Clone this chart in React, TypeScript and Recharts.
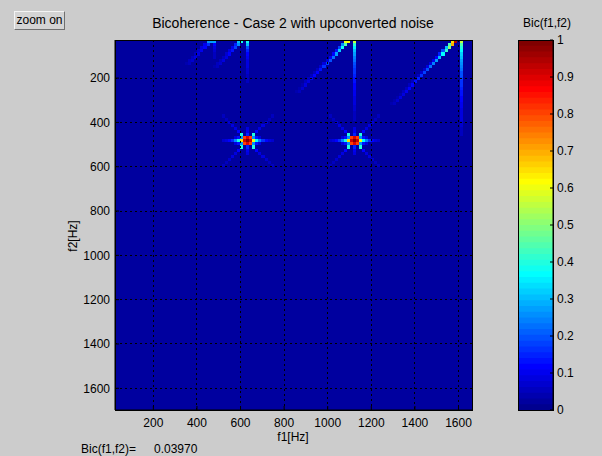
import React from "react"
import {
  ScatterChart,
  Scatter,
  XAxis,
  YAxis,
  ReferenceArea,
} from "recharts"

const FONT = "'Liberation Sans', Arial, Helvetica, sans-serif"
const FIGURE_BG = "#cccccc"

// bicoherence map axes, Hz
const f1Range = [24, 1662]
const f2Range = [28, 1698]
const freqTicks = [200, 400, 600, 800, 1000, 1200, 1400, 1600]
const binHz = 14
const floorLevel = 0.025

// the two bicoherence peaks
const peakF1 = [633, 1122]
const peakF2 = [484, 484]
// 3x3 core of a peak, top row first
const peakCore = [
  [0.8, 0.9, 0.8],
  [0.92, 1.0, 0.92],
  [0.8, 0.9, 0.8],
]
// arms of a peak, starting two bins from the centre
const peakArmLeft = [0.65, 0.4, 0.26, 0.17, 0.12, 0.09, 0.07]
const peakArmRight = [0.6, 0.36, 0.24, 0.16, 0.11, 0.08, 0.07]
const peakArmSide = [0.25, 0.14, 0.09]
const peakArmVert = [0.15, 0.1, 0.08]
const peakArmDiag = [0.4, 0.12, 0.09, 0.08, 0.07, 0.06, 0.06]

// upconverted noise ridges hanging from the top edge
const ridgeColumn = [478, 628, 1122, 1607] // vertical line at f1
const ridgeSum = [505, 640, 1132, 1625] // diagonal line f1 + f2 = const
const ridgeColumnLevels = [
  [0.28, 0.12, 0.09, 0.07, 0.06, 0.05],
  [0.38, 0.3, 0.2, 0.15, 0.12, 0.1, 0.09, 0.08, 0.08, 0.07, 0.07, 0.06, 0.06, 0.05],
  [0.55, 0.42, 0.35, 0.3, 0.27, 0.24, 0.22, 0.2, 0.18, 0.17, 0.16, 0.15, 0.14, 0.13, 0.12, 0.11, 0.1, 0.1, 0.09, 0.08, 0.08, 0.07, 0.07, 0.06, 0.06, 0.05],
  [0.55, 0.45, 0.4, 0.36, 0.32, 0.3, 0.28, 0.26, 0.24, 0.22, 0.2, 0.19, 0.18, 0.17, 0.16, 0.15, 0.14, 0.13, 0.12, 0.11, 0.1, 0.1, 0.09, 0.09, 0.08, 0.08, 0.07, 0.07, 0.06, 0.06, 0.05],
]
// [on the line, one bin to the left]
const ridgeDiagLevels = [
  [[0.28, 0.25], [0.16, 0.1], [0.12, 0.08], [0.1, 0.07], [0.09, 0.06], [0.08, 0.05], [0.07, 0.05], [0.06, 0.04]],
  [[0.38, 0.3], [0.25, 0.15], [0.18, 0.1], [0.14, 0.08], [0.11, 0.07], [0.09, 0.06], [0.08, 0.05], [0.07, 0.05], [0.06, 0.04]],
  [[0.62, 0.6], [0.45, 0.25], [0.38, 0.18], [0.32, 0.14], [0.27, 0.12], [0.23, 0.1], [0.2, 0.09], [0.18, 0.08], [0.16, 0.07], [0.14, 0.06], [0.12, 0.06], [0.11, 0.05], [0.1, 0.05], [0.09, 0.05], [0.08, 0.04], [0.07, 0.04], [0.06, 0.04]],
  [[0.95, 0.65], [0.7, 0.45], [0.5, 0.3], [0.42, 0.2], [0.36, 0.15], [0.3, 0.12], [0.27, 0.1], [0.24, 0.09], [0.22, 0.08], [0.2, 0.07], [0.18, 0.07], [0.16, 0.06], [0.15, 0.06], [0.13, 0.05], [0.12, 0.05], [0.11, 0.05], [0.1, 0.05], [0.09, 0.04], [0.08, 0.04], [0.07, 0.04], [0.06, 0.04]],
]

// colorbar
const barTicks = [0, 0.1, 0.2, 0.3, 0.4, 0.5, 0.6, 0.7, 0.8, 0.9, 1]
const barLevels = 64

// matlab jet(64), row 0..63
function jetRow(r: number) {
  const u = (k: number) => (k < 1 || k > 47 ? 0 : k <= 16 ? k / 16 : k <= 31 ? 1 : (48 - k) / 16)
  const x = r + 1
  const c = [u(x - 24), u(x - 8), u(x + 8)].map((v) => Math.round(v * 255))
  return `rgb(${c[0]},${c[1]},${c[2]})`
}
const jet = (v: number) => jetRow(Math.max(0, Math.min(63, Math.floor(v * 64))))

type Cell = { i: number; j: number; v: number }

function buildCells(): Cell[] {
  const cells = new Map<string, Cell>()
  const nCols = Math.floor((f1Range[1] - f1Range[0]) / binHz)
  const nRows = Math.floor((f2Range[1] - f2Range[0]) / binHz)
  const put = (i: number, j: number, v: number) => {
    if (i < 0 || j < 0 || i >= nCols || j >= nRows) return
    const key = i + "," + j
    const old = cells.get(key)
    if (!old || old.v < v) cells.set(key, { i, j, v })
  }
  const col = (f: number) => Math.floor((f - f1Range[0]) / binHz)
  const row = (f: number) => Math.floor((f - f2Range[0]) / binHz)

  ridgeColumn.forEach((f1, r) => {
    const i = col(f1)
    ridgeColumnLevels[r].forEach((v, k) => put(i, k, v))
  })
  ridgeSum.forEach((s, r) => {
    ridgeDiagLevels[r].forEach(([on, side], k) => {
      const f2 = f2Range[0] + (k + 0.5) * binHz
      const i = col(s - f2)
      put(i, k, on)
      put(i - 1, k, side)
    })
  })

  peakF1.forEach((f1, p) => {
    const ci = col(f1)
    const cj = row(peakF2[p])
    peakArmDiag.forEach((v, k) => {
      const d = k + 2
      put(ci - d, cj - d, v)
      put(ci + d, cj - d, v)
      put(ci - d, cj + d, v)
      put(ci + d, cj + d, v)
    })
    peakArmVert.forEach((v, k) => {
      put(ci, cj - k - 2, v)
      put(ci, cj + k + 2, v)
    })
    peakArmSide.forEach((v, k) => {
      put(ci - k - 2, cj - 1, v)
      put(ci + k + 2, cj - 1, v)
      put(ci - k - 2, cj + 1, v)
      put(ci + k + 2, cj + 1, v)
    })
    peakArmLeft.forEach((v, k) => put(ci - k - 2, cj, v))
    peakArmRight.forEach((v, k) => put(ci + k + 2, cj, v))
    peakCore.forEach((line, dj) => line.forEach((v, di) => put(ci + di - 1, cj + dj - 1, v)))
  })

  return Array.from(cells.values()).sort((a, b) => a.v - b.v)
}

const cells = buildCells()
const peaks = peakF1.map((f1, i) => ({ f1, f2: peakF2[i] }))

const tickStyle = { fill: "#000", fontSize: 12, fontFamily: FONT }

function MapChart() {
  return (
    <ScatterChart
      width={602}
      height={456}
      margin={{ top: 40, right: 130, bottom: 16, left: 55 }}
    >
      <XAxis
        type="number"
        dataKey="f1"
        domain={f1Range}
        ticks={freqTicks}
        interval={0}
        allowDataOverflow
        height={30}
        tickSize={-4}
        tickMargin={12}
        stroke="#000"
        tick={tickStyle}
      />
      <XAxis
        xAxisId="top"
        orientation="top"
        type="number"
        domain={f1Range}
        ticks={freqTicks}
        interval={0}
        allowDataOverflow
        height={0}
        tickSize={-4}
        tick={false}
        stroke="#000"
      />
      <YAxis
        type="number"
        dataKey="f2"
        domain={f2Range}
        ticks={freqTicks}
        interval={0}
        reversed
        allowDataOverflow
        width={60}
        tickSize={-4}
        tickMargin={9}
        stroke="#000"
        tick={tickStyle}
      />
      <YAxis
        yAxisId="right"
        orientation="right"
        type="number"
        domain={f2Range}
        ticks={freqTicks}
        interval={0}
        reversed
        allowDataOverflow
        width={0}
        tickSize={-4}
        tick={false}
        stroke="#000"
      />
      <ReferenceArea
        x1={f1Range[0]}
        x2={f1Range[1]}
        y1={f2Range[0]}
        y2={f2Range[1]}
        fill={jet(floorLevel)}
        fillOpacity={1}
        stroke="none"
      />
      {cells.map((c) => (
        <ReferenceArea
          key={c.i + "-" + c.j}
          x1={f1Range[0] + c.i * binHz}
          x2={f1Range[0] + (c.i + 1) * binHz}
          y1={f2Range[0] + c.j * binHz}
          y2={f2Range[0] + (c.j + 1) * binHz}
          fill={jet(c.v)}
          fillOpacity={1}
          stroke="none"
          shapeRendering="crispEdges"
        />
      ))}
      {/* dotted grid: the left / top edge of each outline is the grid line */}
      {freqTicks.map((t) => (
        <ReferenceArea
          key={"gx" + t}
          x1={t}
          x2={f1Range[1]}
          y1={f2Range[0]}
          y2={f2Range[1]}
          fill="none"
          stroke="#000"
          strokeWidth={1}
          strokeDasharray="2 3"
          shapeRendering="crispEdges"
        />
      ))}
      {freqTicks.map((t) => (
        <ReferenceArea
          key={"gy" + t}
          x1={f1Range[0]}
          x2={f1Range[1]}
          y1={t}
          y2={f2Range[1]}
          fill="none"
          stroke="#000"
          strokeWidth={1}
          strokeDasharray="2 3"
          shapeRendering="crispEdges"
        />
      ))}
      <ReferenceArea
        x1={f1Range[0]}
        x2={f1Range[1]}
        y1={f2Range[0]}
        y2={f2Range[1]}
        fill="none"
        stroke="#000"
        shapeRendering="crispEdges"
      />
      <Scatter data={peaks} fill="none" shape={() => <g />} isAnimationActive={false} />
    </ScatterChart>
  )
}

function ColorBar() {
  const levels = Array.from({ length: barLevels }, (_, i) => i)
  return (
    <ScatterChart
      width={102}
      height={456}
      margin={{ top: 40, right: 9, bottom: 46, left: 18 }}
    >
      <XAxis type="number" dataKey="x" domain={[0, 1]} hide />
      <YAxis
        yAxisId="l"
        type="number"
        domain={[0, 1]}
        ticks={barTicks}
        interval={0}
        width={0}
        tickSize={-3}
        tick={false}
        stroke="#000"
      />
      <YAxis
        orientation="right"
        type="number"
        dataKey="y"
        domain={[0, 1]}
        ticks={barTicks}
        interval={0}
        width={40}
        tickSize={-3}
        tickMargin={7}
        stroke="#000"
        tick={{ ...tickStyle, textAnchor: "start" }}
      />
      {/* each level is painted up to the top and covered by the next one */}
      {levels.map((i) => (
        <ReferenceArea
          key={i}
          x1={0}
          x2={1}
          y1={i / barLevels}
          y2={1}
          fill={jetRow(i)}
          fillOpacity={1}
          stroke="none"
        />
      ))}
      <ReferenceArea x1={0} x2={1} y1={0} y2={1} fill="none" stroke="#000" shapeRendering="crispEdges" />
      <Scatter data={[{ x: 0, y: 0 }]} fill="none" shape={() => <g />} isAnimationActive={false} />
    </ScatterChart>
  )
}

const text = (extra: React.CSSProperties): React.CSSProperties => ({
  position: "absolute",
  fontFamily: FONT,
  fontSize: 12,
  color: "#000",
  whiteSpace: "pre",
  lineHeight: "14px",
  ...extra,
})

export default function App() {
  return (
    <div
      style={{
        position: "fixed",
        left: 0,
        top: 0,
        width: 602,
        height: 456,
        background: FIGURE_BG,
        overflow: "hidden",
      }}
    >
      <div style={{ position: "absolute", left: 0, top: 0 }}>
        <MapChart />
      </div>
      <div style={{ position: "absolute", left: 500, top: 0 }}>
        <ColorBar />
      </div>
      <div
        style={text({
          left: 14,
          top: 11,
          width: 49,
          height: 17,
          textAlign: "center",
          background: "#d4d4d4",
          border: "1px solid",
          borderColor: "#f4f4f4 #707070 #707070 #f4f4f4",
          lineHeight: "17px",
        })}
      >
        zoom on
      </div>
      <div style={text({ left: 93, width: 400, top: 14, fontSize: 14, lineHeight: "18px", textAlign: "center" })}>
        Bicoherence - Case 2 with upconverted noise
      </div>
      <div style={text({ left: 497, width: 100, top: 16, textAlign: "center" })}>Bic(f1,f2)</div>
      <div style={text({ left: 243, width: 100, top: 430, textAlign: "center" })}>f1[Hz]</div>
      <div
        style={text({
          left: 23,
          width: 100,
          top: 229,
          textAlign: "center",
          transform: "rotate(-90deg)",
        })}
      >
        f2[Hz]
      </div>
      <div style={text({ left: 81, top: 442 })}>Bic(f1,f2)=</div>
      <div style={text({ left: 154, top: 442 })}>0.03970</div>
    </div>
  )
}
